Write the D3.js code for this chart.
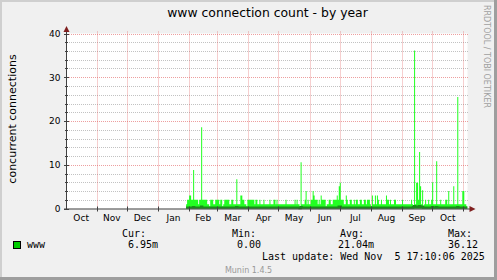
<!DOCTYPE html>
<html><head><meta charset="utf-8">
<script src="https://cdn.jsdelivr.net/npm/d3@7"></script>
<style>html,body{margin:0;padding:0;background:#f0f0f0}svg{display:block}</style>
</head><body>
<script>
// ---- data ----
const title = "www connection count - by year";
const yLabel = "concurrent connections";
const seriesName = "www";
const seriesStart = "2025-01-29";          // first daily value
const maxValues = [
 1,2,2,3,3,2,2,8.8,2,2, 2,2,1,2,2,18.6,2,2,2,2, 2,1,1,0.5,2,2,2,1,1,2,
 2,2,2,1,2,2,0.5,1,2,2, 2,2,2,1,1,2,2,1,1,1, 6.7,1,1,1,3,3,2,2,1,1,
 0.5,2,2,2,2,2,2,2,1,2, 2,1,1,2,1,1,1,2,1,1, 1,1,1,2,1,1,1,2,2,1,
 2,1,1,1,1,1,1,1,1,2, 1,1,1,1,1,1,1,1,2,1, 2,1,1,0.3,10.6,1,1,1,2,4,
 1,2,1,1,2,2,4,3,2,2, 2,1,2,1,3,2,2,2,2,0.5, 1,1,2,2,1,1,2,2,2,2,
 3,2,5.1,5.9,2,2,2,1,1,3, 2,1,1,2,2,1,1,2,1,2, 2,1,1,2,2,1,1,2,2,1,
 2,2,2,1,0.5,3,1,1,3,1, 3,2,1,1,2,1,1,1,1,3, 2,2,1,2,1,1,1,2,2,1,
 1,1,1,1,1,2,1,1,1,1, 1,1,1,1,2,1,0.5,36.1,1,5.9, 5.9,2,12.9,5.1,1,4.2,0.5,1,2,1,
 1,2,1,1,2,6,1,1,1,10.8, 1,1,1,2,1,1,1,1,2,2, 1,4,1,1,1,1,5.1,1,1,1,
 25.5,1,1,1,1,4,4,1,1,0.5
];
const avgValues = [
 0.2,0.2,0.2,0.2,0.2,0.2,0.2,0.3,0.2,0.2, 0.2,0.2,0.2,0.2,0.2,0.4,0.2,0.2,0.2,0.2, 0.2,0.2,0.2,0.2,0.2,0.2,0.2,0.2,0.2,0.2,
 0.2,0.2,0.2,0.2,0.2,0.2,0.2,0.2,0.2,0.2, 0.2,0.2,0.2,0.2,0.2,0.2,0.2,0.2,0.2,0.2, 0.3,0.2,0.2,0.2,0.2,0.2,0.2,0.2,0.2,0.2,
 0.2,0.2,0.2,0.2,0.2,0.2,0.2,0.2,0.2,0.2, 0.2,0.2,0.2,0.2,0.2,0.2,0.2,0.2,0.2,0.2, 0.2,0.2,0.2,0.2,0.2,0.2,0.2,0.2,0.2,0.2,
 0.2,0.2,0.2,0.2,0.2,0.2,0.2,0.2,0.2,0.2, 0.2,0.2,0.2,0.2,0.2,0.2,0.2,0.2,0.2,0.2, 0.2,0.2,0.2,0.1,0.3,0.2,0.2,0.2,0.2,0.2,
 0.2,0.2,0.2,0.2,0.2,0.2,0.2,0.2,0.2,0.2, 0.2,0.2,0.2,0.2,0.2,0.2,0.2,0.2,0.2,0.2, 0.2,0.2,0.2,0.2,0.2,0.2,0.2,0.2,0.2,0.2,
 0.2,0.2,0.4,0.4,0.2,0.2,0.2,0.2,0.2,0.2, 0.2,0.2,0.2,0.2,0.2,0.2,0.2,0.2,0.2,0.2, 0.2,0.2,0.2,0.2,0.2,0.2,0.2,0.2,0.2,0.2,
 0.2,0.2,0.2,0.2,0.2,0.2,0.2,0.2,0.2,0.2, 0.2,0.2,0.2,0.2,0.2,0.2,0.2,0.2,0.2,0.2, 0.2,0.2,0.2,0.2,0.2,0.2,0.2,0.2,0.2,0.2,
 0.2,0.2,0.2,0.2,0.2,0.2,0.2,0.2,0.2,0.2, 0.2,0.2,0.2,0.2,0.2,0.2,0.3,0.5,0.3,0.4, 0.4,0.3,0.5,0.4,0.3,0.4,0.2,0.2,0.2,0.2,
 0.2,0.2,0.2,0.2,0.2,0.3,0.2,0.2,0.2,0.3, 0.2,0.2,0.2,0.2,0.2,0.2,0.2,0.2,0.2,0.2, 0.2,0.2,0.2,0.2,0.2,0.2,0.2,0.2,0.2,0.2,
 0.3,0.2,0.2,0.2,0.2,0.2,0.2,0.2,0.2,0.2
];
const yTicks = [0, 10, 20, 30, 40];
const yMinorStep = 2;
const monthLabels = ["Oct","Nov","Dec","Jan","Feb","Mar","Apr","May","Jun","Jul","Aug","Sep","Oct"];
const monthStarts = ["2024-10-01","2024-11-01","2024-12-01","2025-01-01","2025-02-01","2025-03-01","2025-04-01","2025-05-01","2025-06-01","2025-07-01","2025-08-01","2025-09-01","2025-10-01","2025-11-01"];
const legendHeads = ["Cur:","Min:","Avg:","Max:"];
const legendVals = ["6.95m","0.00","21.04m","36.12"];
const lastUpdate = "Last update: Wed Nov  5 17:10:06 2025";
const footer = "Munin 1.4.5";
const watermark = "RRDTOOL / TOBI OETIKER";

// ---- layout ----
const W = 497, H = 280;
const L = 67, R = 467.5, T = 33.5, B = 208.5;
const svg = d3.select("body").append("svg").attr("width", W).attr("height", H);
const parse = d3.utcParse("%Y-%m-%d");

// frame
svg.append("rect").attr("x",0).attr("y",0).attr("width",W).attr("height",H).attr("fill","#f0f0f0");
svg.append("path").attr("d",`M0,0H${W}V2H2V${H}H0Z`).attr("fill","#cfcfcf");
svg.append("path").attr("d",`M${W},${H}H0V${H-3}H${W-3}V0H${W}Z`).attr("fill","#9e9e9e");

const x = d3.scaleUtc().domain([parse("2024-11-01"), parse("2025-11-01")]).range([96.7, 463.3]);
const y = d3.scaleLinear().domain([0, 40]).range([B, T]);

// canvas
svg.append("rect").attr("x",L).attr("y",T).attr("width",R-L).attr("height",B-T).attr("fill","#ffffff");

// grid
const g = svg.append("g");
const minors = d3.range(0, 40 + 0.001, yMinorStep).filter(v => !yTicks.includes(v));
g.selectAll(".mn").data(minors).join("line")
  .attr("x1",L).attr("x2",R+1).attr("y1",d=>Math.round(y(d))+0.5).attr("y2",d=>Math.round(y(d))+0.5)
  .attr("stroke","rgba(143,143,143,0.55)").attr("stroke-dasharray","1,1");
const months = monthStarts.map(parse).filter(d => x(d) > L + 1 && x(d) <= R);
g.selectAll(".vg").data(months).join("line")
  .attr("x1",d=>Math.round(x(d))+0.5).attr("x2",d=>Math.round(x(d))+0.5).attr("y1",T-2).attr("y2",B)
  .attr("stroke","rgba(222,80,80,0.55)").attr("stroke-dasharray","1,1");
g.selectAll(".mj").data(yTicks.filter(v=>v>0)).join("line")
  .attr("x1",L).attr("x2",R+1).attr("y1",d=>Math.round(y(d))+0.5).attr("y2",d=>Math.round(y(d))+0.5)
  .attr("stroke","rgba(222,80,80,0.55)").attr("stroke-dasharray","1,1");

// data
const start = parse(seriesStart);
const pts = maxValues.map((v,i)=>({d:d3.utcDay.offset(start,i), v, a:avgValues[i]}));
const last = {d:d3.utcDay.offset(start,maxValues.length), v:maxValues[maxValues.length-1], a:avgValues[avgValues.length-1]};
const ptsE = pts.concat([last]);
svg.append("path").datum(ptsE)
  .attr("d", d3.area().curve(d3.curveStepAfter).x(d=>x(d.d)).y0(y(0)).y1(d=>y(d.v)))
  .attr("fill","#22ff22");
svg.append("path").datum(ptsE)
  .attr("d", d3.line().curve(d3.curveStepAfter).x(d=>x(d.d)).y(d=>y(d.a)))
  .attr("fill","none").attr("stroke","#1c8a1c").attr("stroke-width",2.4);

// axes
const ax = svg.append("g");
ax.append("line").attr("x1",L-0.5).attr("x2",L-0.5).attr("y1",B+1).attr("y2",T-4).attr("stroke","#404040");
ax.append("line").attr("x1",L-3).attr("x2",R+4).attr("y1",B+0.5).attr("y2",B+0.5).attr("stroke","#404040");
ax.selectAll(".yt").data(yTicks).join("line")
  .attr("x1",L-3).attr("x2",L+2).attr("y1",d=>Math.round(y(d))+0.5).attr("y2",d=>Math.round(y(d))+0.5).attr("stroke","#404040");
ax.selectAll(".ymt").data(minors).join("line")
  .attr("x1",L-2).attr("x2",L+1).attr("y1",d=>Math.round(y(d))+0.5).attr("y2",d=>Math.round(y(d))+0.5).attr("stroke","#404040");
ax.selectAll(".xt").data(months).join("line")
  .attr("x1",d=>Math.round(x(d))+0.5).attr("x2",d=>Math.round(x(d))+0.5).attr("y1",B-2).attr("y2",B+3).attr("stroke","#404040");
// arrows
svg.append("path").attr("d",`M${L-3.5},${T-1.5}L${L+2.5},${T-1.5}L${L-0.5},${T-7.5}Z`).attr("fill","#7f1f1f");
svg.append("path").attr("d",`M${R+2},${B-2.5}L${R+2},${B+3.5}L${R+8},${B+0.5}Z`).attr("fill","#7f1f1f");

// labels
svg.selectAll(".yl").data(yTicks).join("text")
  .attr("x",60.5).attr("y",d=>y(d)+3.3).attr("text-anchor","end")
  .attr("font-family","DejaVu Sans").attr("font-size",9).attr("fill","#000").text(d=>d);
const mStarts = monthStarts.map(parse);
svg.selectAll(".xl").data(monthLabels).join("text")
  .attr("x",(d,i)=>(x(mStarts[i])+x(mStarts[i+1]))/2).attr("y",221)
  .attr("text-anchor","middle").attr("font-family","DejaVu Sans").attr("font-size",9).attr("fill","#000").text(d=>d);

svg.append("text").attr("x",267.5).attr("y",17.2).attr("text-anchor","middle")
  .attr("font-family","DejaVu Sans").attr("font-size",12.4).attr("fill","#000").text(title);
svg.append("text").attr("transform","translate(15.5,119) rotate(-90)").attr("text-anchor","middle")
  .attr("font-family","DejaVu Sans").attr("font-size",11).attr("fill","#000").text(yLabel);
svg.append("text").attr("transform","translate(484,5) rotate(90)").attr("text-anchor","start")
  .attr("font-family","DejaVu Sans").attr("font-size",8).attr("fill","#a0a0a0").text(watermark);

// legend
const mono = "DejaVu Sans Mono";
svg.append("rect").attr("x",13.5).attr("y",241.5).attr("width",7).attr("height",7).attr("fill","#00cc00").attr("stroke","#000");
svg.append("text").attr("x",27).attr("y",248).attr("font-family",mono).attr("font-size",10).text(seriesName);
const headX = [122, 232, 340, 448];
const valX = [128, 237, 338, 448];
svg.selectAll(".lh").data(legendHeads).join("text").attr("x",(d,i)=>headX[i]).attr("y",237)
  .attr("font-family",mono).attr("font-size",10).text(d=>d);
svg.selectAll(".lv").data(legendVals).join("text").attr("x",(d,i)=>valX[i]).attr("y",248)
  .attr("font-family",mono).attr("font-size",10).text(d=>d);
svg.append("text").attr("x",262).attr("y",260).attr("font-family",mono).attr("font-size",10).attr("xml:space","preserve").style("white-space","pre").text(lastUpdate);
svg.append("text").attr("x",248.5).attr("y",272.5).attr("text-anchor","middle").attr("font-family","DejaVu Sans").attr("font-size",8).attr("fill","#999").text(footer);
</script>
</body></html>
